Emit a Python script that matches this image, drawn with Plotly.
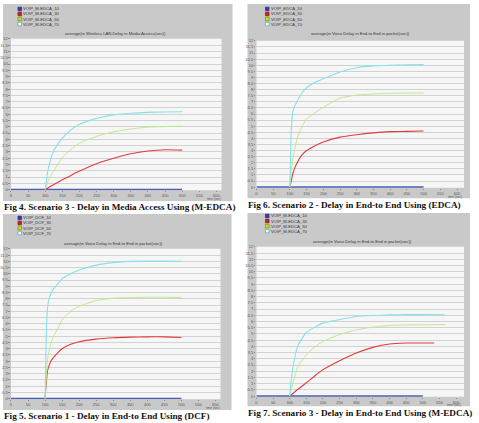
import plotly.graph_objects as go

W, H = 479, 423

# ---------------- data ----------------
x_ticks = list(range(0, 601, 50))
y_ticks = [i * 0.5 for i in range(0, 25)]
y_ticktext = [("%g" % v) for v in y_ticks]

# Fig 4: Delay in Media Access (M-EDCA)
f4_x = [100, 105, 110, 125, 150, 175, 200, 235, 270, 300, 350, 400, 450, 500]
f4_c70 = [0, 1.0, 1.8, 3.1, 4.1, 4.75, 5.2, 5.55, 5.8, 5.95, 6.08, 6.15, 6.18, 6.2]
f4_c50 = [0, 0.4, 0.8, 1.5, 2.55, 3.2, 3.7, 4.1, 4.4, 4.6, 4.83, 4.97, 5.02, 5.05]
f4_c30_x = [100, 125, 150, 175, 200, 235, 270, 300, 350, 400, 450, 500]
f4_c30 = [0, 0.4, 0.78, 1.13, 1.47, 1.9, 2.25, 2.5, 2.85, 3.07, 3.17, 3.14]
f4_c10_x = [0, 500]
f4_c10 = [0, 0]

# Fig 6: End-to-End (EDCA)
f6_x = [100, 102, 104, 107, 110, 115, 123, 135, 150, 175, 200, 250, 300, 350, 400, 450, 500]
f6_c70 = [0, 2.5, 4.6, 5.8, 6.3, 6.7, 7.1, 7.7, 8.15, 8.6, 8.9, 9.45, 9.8, 9.95, 10.0, 10.03, 10.05]
f6_c50 = [0, 0.6, 1.2, 1.9, 2.5, 3.2, 4.1, 4.9, 5.6, 6.1, 6.55, 7.3, 7.55, 7.65, 7.7, 7.72, 7.72]
f6_c30 = [0, 0.25, 0.5, 0.9, 1.2, 1.6, 2.07, 2.6, 3.0, 3.4, 3.7, 4.1, 4.3, 4.45, 4.55, 4.57, 4.6]
f6_c10_x = [0, 500]
f6_c10 = [0, 0]

# Fig 5: End-to-End (DCF)
f5_x = [100, 102, 104, 107, 110, 117, 125, 140, 150, 175, 200, 250, 300, 350, 400, 450, 500]
f5_c70 = [0, 3.0, 5.5, 7.2, 7.8, 8.4, 8.8, 9.3, 9.6, 10.0, 10.3, 10.7, 10.9, 11.0, 11.02, 11.02, 11.0]
f5_c50 = [0, 1.0, 1.9, 3.0, 3.6, 4.4, 5.0, 5.75, 6.3, 7.0, 7.4, 7.85, 8.05, 8.1, 8.12, 8.12, 8.1]
f5_c30 = [0, 0.8, 1.4, 2.2, 2.5, 3.0, 3.3, 3.75, 4.0, 4.35, 4.56, 4.77, 4.88, 4.93, 4.95, 4.95, 4.9]
f5_c10_x = [0, 500]
f5_c10 = [0, 0]

# Fig 7: End-to-End (M-EDCA)
f7_c70_x = [100, 105, 110, 125, 150, 175, 200, 250, 300, 350, 400, 450, 500, 565]
f7_c70 = [0, 1.4, 2.4, 4.1, 5.1, 5.55, 5.87, 6.15, 6.4, 6.48, 6.53, 6.55, 6.56, 6.53]
f7_c50_x = [100, 105, 110, 125, 150, 175, 200, 250, 300, 350, 400, 450, 500, 568]
f7_c50 = [0, 0.6, 1.1, 2.4, 3.33, 3.95, 4.4, 4.95, 5.33, 5.55, 5.68, 5.72, 5.73, 5.76]
f7_c30_x = [100, 125, 150, 175, 200, 250, 300, 350, 400, 450, 500, 534]
f7_c30 = [0, 0.55, 1.07, 1.62, 2.13, 2.85, 3.47, 3.92, 4.19, 4.27, 4.27, 4.27]
f7_c10_x = [0, 500]
f7_c10 = [0, 0]

legend_f4 = ["VOIP_M-EDCA_10", "VOIP_M-EDCA_30", "VOIP_M-EDCA_50", "VOIP_M-EDCA_70"]
legend_f6 = ["VOIP_EDCA_10", "VOIP_EDCA_30", "VOIP_EDCA_50", "VOIP_EDCA_70"]
legend_f5 = ["VOIP_DCF_10", "VOIP_DCF_30", "VOIP_DCF_50", "VOIP_DCF_70"]
legend_f7 = ["VOIP_M-EDCA_10", "VOIP_M-EDCA_30", "VOIP_M-EDCA_50", "VOIP_M-EDCA_70"]

title_f4 = "average(in Wireless LAN.Delay in Media Access(sec))"
title_f6 = "average(in Voice.Delay in End-to End in packet(sec))"
title_f5 = "average(in Voice.Delay in End-to End in packet(sec))"
title_f7 = "average(in Voice.Delay in End-to End in packet(sec))"

cap_f4 = "Fig 4. Scenario 3 - Delay in Media Access Using (M-EDCA)"
cap_f6 = "Fig 6. Scenario 2 - Delay in End-to End Using (EDCA)"
cap_f5 = "Fig 5. Scenario 1 - Delay in End-to End Using (DCF)"
cap_f7 = "Fig 7. Scenario 3 - Delay in End-to End Using (M-EDCA)"

# ---------------- styling ----------------
COL10 = "#4a5fb0"
COL30 = "#e03c3c"
COL50 = "#bfe88c"
COL70 = "#86e2ea"
LEG_FILL = ["#3b3bb0", "#c02828", "#d8d820", "#eef8f8"]
LEG_LINE = ["#20207a", "#801010", "#5a8a10", "#40a0b0"]

def px(x):
    return x / W

def py(y):
    return 1 - y / H

panels = [
    dict(gray=(2, 2, 232, 201), plot=(10, 37, 221, 190), xmax=615, toff=9.2,
         leg=(17, 7), title=(115, 32), cap=(2, 207), capt=cap_f4, ttl=title_f4, legs=legend_f4,
         series=[(f4_c10_x, f4_c10), (f4_c30_x, f4_c30), (f4_x, f4_c50), (f4_x, f4_c70)]),
    dict(gray=(247, 2, 470, 198), plot=(256, 39, 464, 187.5), xmax=621, toff=9.2,
         leg=(265, 7), title=(360, 32), cap=(247, 205), capt=cap_f6, ttl=title_f6, legs=legend_f6,
         series=[(f6_c10_x, f6_c10), (f6_x, f6_c30), (f6_x, f6_c50), (f6_x, f6_c70)]),
    dict(gray=(2, 214, 231, 412), plot=(10, 249, 220, 401), xmax=615, toff=9.2,
         leg=(17, 218), title=(113, 244), cap=(2, 418), capt=cap_f5, ttl=title_f5, legs=legend_f5,
         series=[(f5_c10_x, f5_c10), (f5_x, f5_c30), (f5_x, f5_c50), (f5_x, f5_c70)]),
    dict(gray=(247, 213, 470, 408), plot=(256, 247, 464, 398.5), xmax=624, toff=8.3,
         leg=(265, 216), title=(362, 242), cap=(247, 415), capt=cap_f7, ttl=title_f7, legs=legend_f7,
         series=[(f7_c10_x, f7_c10), (f7_c30_x, f7_c30), (f7_c50_x, f7_c50), (f7_c70_x, f7_c70)]),
]

fig = go.Figure()
shapes = []
annotations = []
colors = [COL10, COL30, COL50, COL70]
widths = [1.6, 1.1, 1.0, 1.1]

for i, p in enumerate(panels):
    n = "" if i == 0 else str(i + 1)
    xa = "xaxis" + n
    ya = "yaxis" + n
    l, t, r, b = p["plot"]
    gl, gt, gr, gb = p["gray"]
    shapes.append(dict(type="rect", xref="paper", yref="paper", layer="below",
                       x0=px(gl), x1=px(gr), y0=py(gb), y1=py(gt),
                       fillcolor="#c9c9c9", line=dict(width=0)))
    shapes.append(dict(type="rect", xref="paper", yref="paper", layer="below",
                       x0=px(l), x1=px(r), y0=py(b), y1=py(t),
                       fillcolor="#f6f6f6", line=dict(width=0)))
    fig.layout[xa] = dict(domain=[px(l), px(r)], range=[0, p["xmax"]],
                          tickvals=x_ticks, ticktext=[str(v) for v in x_ticks],
                          tickfont=dict(size=4, color="#555", family="Arial"),
                          showgrid=False, zeroline=False, showline=False,
                          ticks="outside", ticklen=1, tickcolor="#888",
                          anchor="y" + n, fixedrange=True)
    fig.layout[ya] = dict(domain=[py(b), py(t)], range=[-0.05, 12.02],
                          tickvals=y_ticks, ticktext=y_ticktext,
                          tickfont=dict(size=4, color="#555", family="Arial"),
                          showgrid=True, gridcolor="#d2d2d2", gridwidth=0.8,
                          zeroline=False, showline=False,
                          ticks="outside", ticklen=1.5, tickcolor="#888",
                          anchor="x" + n, fixedrange=True)
    for k, (sx, sy) in enumerate(p["series"]):
        fig.add_trace(go.Scatter(x=sx, y=sy, mode="lines", xaxis="x" + n, yaxis="y" + n,
                                 line=dict(color=colors[k], width=widths[k], shape="spline", smoothing=0.5),
                                 showlegend=False, hoverinfo="skip"))
    # legend
    lx, ly = p["leg"]
    for k, name in enumerate(p["legs"]):
        yy = ly + k * 5.1
        shapes.append(dict(type="rect", xref="paper", yref="paper",
                           x0=px(lx), x1=px(lx + 3.6), y0=py(yy + 1.8), y1=py(yy - 1.8),
                           fillcolor=LEG_FILL[k], line=dict(color=LEG_LINE[k], width=0.6)))
        annotations.append(dict(x=px(lx + 4.5), y=py(yy), xref="paper", yref="paper",
                                text=name, showarrow=False, xanchor="left", yanchor="middle",
                                borderpad=0,
                                font=dict(size=4.2, color="#333", family="Arial")))
    # title
    tx, ty = p["title"]
    annotations.append(dict(x=px(tx), y=py(ty), xref="paper", yref="paper", text=p["ttl"],
                            showarrow=False, xanchor="center", yanchor="middle", borderpad=0,
                            font=dict(size=4.2, color="#333", family="Arial")))
    # time label
    annotations.append(dict(x=px(l + (r - l) * 600 / p["xmax"] - 2), y=py(b + p["toff"]),
                            xref="paper", yref="paper",
                            text="time (sec)", showarrow=False, xanchor="center", yanchor="middle",
                            borderpad=0,
                            font=dict(size=3.2, color="#555", family="Arial")))
    # caption
    cx, cy = p["cap"]
    annotations.append(dict(x=px(cx), y=py(cy), xref="paper", yref="paper",
                            text="<b>" + p["capt"] + "</b>", showarrow=False,
                            xanchor="left", yanchor="middle", borderpad=0,
                            font=dict(size=9.2, color="#111", family="Liberation Serif")))

fig.update_layout(width=W, height=H, margin=dict(l=0, r=0, t=0, b=0),
                  paper_bgcolor="white", plot_bgcolor="rgba(0,0,0,0)",
                  shapes=shapes, annotations=annotations, showlegend=False)

fig.write_html("out.html", config={"displayModeBar": False})
